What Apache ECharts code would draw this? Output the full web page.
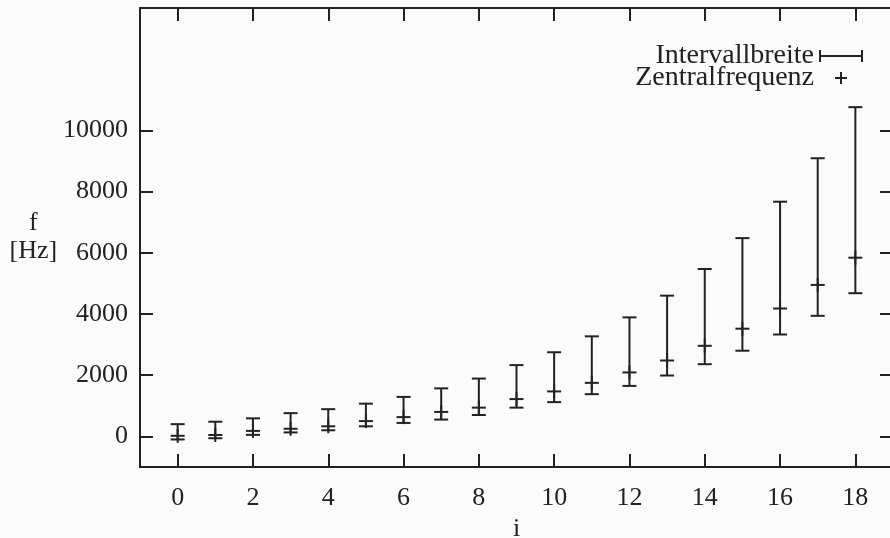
<!DOCTYPE html>
<html>
<head>
<meta charset="utf-8">
<script src="https://cdn.jsdelivr.net/npm/echarts@6/dist/echarts.min.js"></script>
<style>
  html, body { margin: 0; padding: 0; background: #fbfbfa; }
  #chart { width: 890px; height: 538px; }
</style>
</head>
<body>
<div id="chart"></div>
<script>
// Band index i and the frequency interval of each band [Hz]
const bandIndex  = [0, 1, 2, 3, 4, 5, 6, 7, 8, 9, 10, 11, 12, 13, 14, 15, 16, 17, 18];
const freqLow    = [-100, -60, 50, 130, 200, 330, 440, 550, 700, 940, 1120, 1380, 1650, 1990, 2360, 2800, 3330, 3940, 4680];
const freqCenter = [20, 45, 180, 250, 330, 500, 630, 800, 940, 1220, 1470, 1750, 2090, 2480, 2960, 3520, 4180, 4950, 5840];
const freqHigh   = [400, 480, 590, 760, 890, 1070, 1290, 1570, 1890, 2330, 2750, 3270, 3890, 4600, 5470, 6480, 7670, 9090, 10760];

// Tick positions
const xTickValues = [0, 2, 4, 6, 8, 10, 12, 14, 16, 18];
const yTickValues = [0, 2000, 4000, 6000, 8000, 10000];

const ink = '#222222';
const serif = '"Liberation Serif", "DejaVu Serif", serif';

const intervalData = bandIndex.map((i, k) => [i, freqLow[k], freqHigh[k]]);
const centerData = bandIndex.map((i, k) => [i, freqCenter[k]]);

const lineStyle = { stroke: ink, lineWidth: 2, fill: null };

// Vertical interval bar with end caps
function renderInterval(params, api) {
  const x = api.value(0);
  const lo = api.coord([x, api.value(1)]);
  const hi = api.coord([x, api.value(2)]);
  const w = 7;
  return {
    type: 'group',
    children: [
      { type: 'line', shape: { x1: lo[0], y1: lo[1], x2: hi[0], y2: hi[1] }, style: lineStyle },
      { type: 'line', shape: { x1: lo[0] - w, y1: lo[1], x2: lo[0] + w, y2: lo[1] }, style: lineStyle },
      { type: 'line', shape: { x1: hi[0] - w, y1: hi[1], x2: hi[0] + w, y2: hi[1] }, style: lineStyle }
    ]
  };
}

// "+" marker at the centre frequency
function renderCenter(params, api) {
  const p = api.coord([api.value(0), api.value(1)]);
  const h = 7;
  return {
    type: 'group',
    children: [
      { type: 'line', shape: { x1: p[0] - h, y1: p[1], x2: p[0] + h, y2: p[1] }, style: lineStyle },
      { type: 'line', shape: { x1: p[0], y1: p[1] - h, x2: p[0], y2: p[1] + h }, style: lineStyle }
    ]
  };
}

const errorIcon = 'path://M0,0 L2,0 L2,5 L42,5 L42,0 L44,0 L44,12 L42,12 L42,7 L2,7 L2,12 L0,12 Z';
const plusIcon = 'path://M5,0 L7,0 L7,5 L12,5 L12,7 L7,7 L7,12 L5,12 L5,7 L0,7 L0,5 L5,5 Z';

const axisLineStyle = { color: ink, width: 2 };
const tickStyle = { color: ink, width: 2 };
const labelStyle = { fontFamily: serif, fontSize: 26, color: ink };

const chart = echarts.init(document.getElementById('chart'), null, { renderer: 'canvas' });

chart.setOption({
  backgroundColor: '#fbfbfa',
  animation: false,
  grid: { left: 140, right: -3, top: 8, bottom: 71, outerBoundsMode: 'none', containLabel: false },
  legend: {
    orient: 'vertical',
    right: 22,
    top: 37,
    align: 'right',
    itemWidth: 44,
    itemHeight: 12,
    itemGap: -6,
    textStyle: { fontFamily: serif, fontSize: 28, color: ink, lineHeight: 24 },
    data: [
      { name: 'Intervallbreite', icon: errorIcon },
      { name: 'Zentralfrequenz', icon: plusIcon }
    ]
  },
  xAxis: [
    {
      type: 'value', min: -1, max: 19, position: 'bottom',
      axisLine: { show: true, onZero: false, lineStyle: axisLineStyle },
      axisTick: { show: true, inside: true, length: 13, customValues: xTickValues, lineStyle: tickStyle },
      axisLabel: Object.assign({ margin: 18, customValues: xTickValues, formatter: v => String(v) }, labelStyle),
      splitLine: { show: false },
      name: 'i', nameLocation: 'middle', nameGap: 39,
      nameTextStyle: labelStyle
    },
    {
      type: 'value', min: -1, max: 19, position: 'top',
      axisLine: { show: true, onZero: false, lineStyle: axisLineStyle },
      axisTick: { show: true, inside: true, length: 13, customValues: xTickValues, lineStyle: tickStyle },
      axisLabel: { show: false },
      splitLine: { show: false }
    }
  ],
  yAxis: [
    {
      type: 'value', min: -1000, max: 14000, position: 'left',
      axisLine: { show: true, onZero: false, lineStyle: axisLineStyle },
      axisTick: { show: true, inside: true, length: 13, customValues: yTickValues, lineStyle: tickStyle },
      axisLabel: Object.assign({ margin: 12, customValues: yTickValues, formatter: v => String(v) }, labelStyle),
      splitLine: { show: false },
      name: 'f\n[Hz]', nameLocation: 'middle', nameRotate: 0, nameGap: 106,
      nameTextStyle: Object.assign({ align: 'center', verticalAlign: 'middle', lineHeight: 28, padding: [0, 0, 16, 0] }, labelStyle)
    },
    {
      type: 'value', min: -1000, max: 14000, position: 'right',
      axisLine: { show: true, onZero: false, lineStyle: axisLineStyle },
      axisTick: { show: true, inside: true, length: 13, customValues: yTickValues, lineStyle: tickStyle },
      axisLabel: { show: false },
      splitLine: { show: false }
    }
  ],
  series: [
    {
      name: 'Intervallbreite',
      type: 'custom',
      renderItem: renderInterval,
      itemStyle: { color: ink },
      encode: { x: 0, y: [1, 2] },
      data: intervalData
    },
    {
      name: 'Zentralfrequenz',
      type: 'custom',
      renderItem: renderCenter,
      itemStyle: { color: ink },
      encode: { x: 0, y: 1 },
      data: centerData
    }
  ]
});
</script>
</body>
</html>
